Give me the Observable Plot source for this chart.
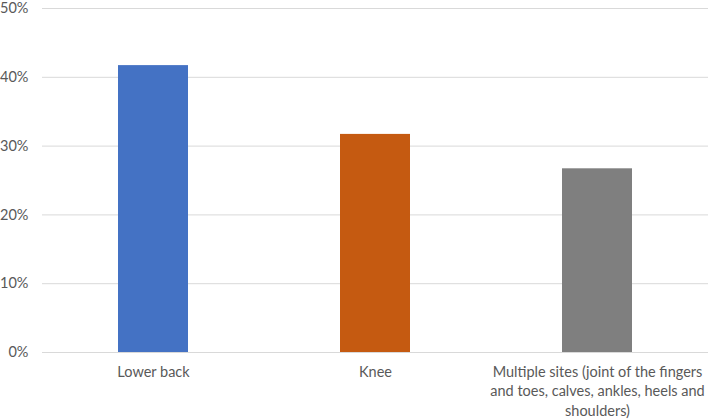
<!DOCTYPE html>
<html>
<head>
<meta charset="utf-8">
<script src="https://cdn.jsdelivr.net/npm/d3@7"></script>
<script src="https://cdn.jsdelivr.net/npm/@observablehq/plot@0.6"></script>
<style>
  html, body { margin: 0; padding: 0; background: #fff; }
  #chart { width: 708px; height: 419px; }
</style>
</head>
<body>
<div id="chart"></div>
<script>
const categories = ["Lower back", "Knee", "Multiple sites"];
const categoryLabels = ["Lower back", "Knee", "Multiple sites (joint of the fingers\nand toes, calves, ankles, heels and\nshoulders)"];
const values = [0.417, 0.317, 0.267];
const colors = ["#4472c4", "#c55a11", "#7f7f7f"];
const yTicks = [0, 0.1, 0.2, 0.3, 0.4, 0.5];

const data = categories.map((c, i) => ({category: c, value: values[i], color: colors[i]}));
const labelOf = new Map(categories.map((c, i) => [c, categoryLabels[i]]));

const chart = Plot.plot({
  width: 708,
  height: 419,
  marginLeft: 42,
  marginRight: 0,
  marginTop: 8,
  marginBottom: 67,
  style: {fontFamily: "Lato, sans-serif", fontSize: "14.5px", color: "#595959", background: "#fff"},
  x: {domain: categories, paddingInner: 0.685, paddingOuter: 0.3425, label: null},
  y: {domain: [0, 0.5], label: null},
  marks: [
    Plot.gridY(yTicks, {stroke: "#d9d9d9", strokeOpacity: 1, strokeWidth: 1}),
    Plot.axisY(yTicks, {tickSize: 0, tickPadding: 14, tickFormat: d3.format(".0%"), label: null, fill: "#595959", fontSize: 14.5}),
    Plot.axisX({tickSize: 0, tickPadding: 10, tickFormat: d => labelOf.get(d), lineHeight: 1.36, label: null, fill: "#595959"}),
    Plot.barY(data, {x: "category", y: "value", fill: "color"})
  ]
});
document.getElementById("chart").appendChild(chart);
</script>
</body>
</html>
